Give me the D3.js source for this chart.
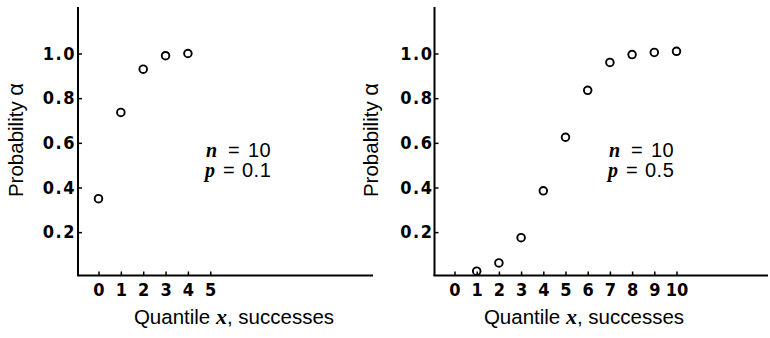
<!DOCTYPE html>
<html>
<head>
<meta charset="utf-8">
<script src="https://cdn.jsdelivr.net/npm/d3@7"></script>
<style>
  html, body { margin: 0; padding: 0; background: #fff; }
  svg { display: block; }
  .tick text { font-family: "DejaVu Sans Condensed", "DejaVu Sans", sans-serif; font-size: 18px; font-weight: bold; fill: #000; }
  .label { font-family: "Liberation Sans", Arial, sans-serif; font-size: 20.5px; fill: #000; }
  .note { font-family: "Liberation Sans", Arial, sans-serif; font-size: 20px; fill: #000; }
  .var { font-family: "Liberation Serif", "DejaVu Serif", serif; font-style: italic; font-weight: bold; }
</style>
</head>
<body>
<svg id="chart" width="770" height="338"></svg>
<script>
// left panel: n = 10, p = 0.1
const leftX = [0, 1, 2, 3, 4];
const leftAlpha = [0.35, 0.736, 0.93, 0.99, 1.0];
const leftTicksX = [0, 1, 2, 3, 4, 5];

// right panel: n = 10, p = 0.5
const rightX = [1, 2, 3, 4, 5, 6, 7, 8, 9, 10];
const rightAlpha = [0.025, 0.062, 0.175, 0.385, 0.625, 0.835, 0.96, 0.995, 1.005, 1.01];
const rightTicksX = [0, 1, 2, 3, 4, 5, 6, 7, 8, 9, 10];

const ticksY = [0.2, 0.4, 0.6, 0.8, 1.0];

const svg = d3.select("#chart");

function drawPanel(cfg) {
  const g = svg.append("g");
  const x = d3.scaleLinear().domain([0, cfg.xMax]).range([cfg.x0, cfg.x0 + cfg.step * cfg.xMax]);
  const y = d3.scaleLinear().domain([0, 1]).range([276.8, 53.5]);

  // frame lines (L shape)
  g.append("line")
    .attr("x1", cfg.axisX).attr("x2", cfg.axisX)
    .attr("y1", 7).attr("y2", 276)
    .attr("stroke", "#000").attr("stroke-width", 2);
  g.append("line")
    .attr("x1", cfg.axisX - 1).attr("x2", cfg.axisEnd)
    .attr("y1", 275.5).attr("y2", 275.5)
    .attr("stroke", "#000").attr("stroke-width", 2);

  // y axis
  const ya = g.append("g")
    .attr("transform", `translate(${cfg.axisX},0)`)
    .call(d3.axisLeft(y).tickValues(ticksY).tickFormat(d3.format(".1f")).tickSize(-4).tickPadding(cfg.yPad));
  ya.select(".domain").remove();
  ya.selectAll(".tick line").attr("stroke", "#000").attr("stroke-width", 1.5);
  ya.selectAll(".tick text").attr("letter-spacing", "1.5px");

  // x axis
  const xa = g.append("g")
    .attr("transform", `translate(0,275.5)`)
    .call(d3.axisBottom(x).tickValues(cfg.ticksX).tickFormat(d3.format("d")).tickSize(-4).tickPadding(8));
  xa.select(".domain").remove();
  xa.selectAll(".tick line").attr("stroke", "#000").attr("stroke-width", 1.5);

  // points
  g.selectAll("circle")
    .data(cfg.xs.map((d, i) => [d, cfg.ys[i]]))
    .join("circle")
    .attr("cx", d => x(d[0]))
    .attr("cy", d => y(d[1]))
    .attr("r", 3.8)
    .attr("fill", "none")
    .attr("stroke", "#000")
    .attr("stroke-width", 1.9);

  // y label
  const yl = g.append("text")
    .attr("class", "label")
    .attr("transform", `translate(${cfg.yLabelX},140) rotate(-90)`)
    .attr("text-anchor", "middle");
  yl.append("tspan").text("Probability ");
  yl.append("tspan").attr("font-size", "22px").text("α");

  // x label
  const xl = g.append("text")
    .attr("class", "label")
    .attr("x", cfg.xLabelX).attr("y", 324)
    .attr("text-anchor", "middle");
  xl.append("tspan").text("Quantile ");
  xl.append("tspan").attr("class", "var").attr("font-size", "22px").text("x");
  xl.append("tspan").text(", successes");

  // parameters
  const nx = cfg.noteX;
  const n1 = g.append("text").attr("class", "note").attr("y", 157);
  n1.append("tspan").attr("class", "var").attr("x", nx + 1).text("n");
  n1.append("tspan").attr("x", nx + 23).text("=");
  n1.append("tspan").attr("x", nx + 43).attr("letter-spacing", "0.5px").text("10");
  const n2 = g.append("text").attr("class", "note").attr("y", 177);
  n2.append("tspan").attr("class", "var").attr("x", nx).text("p");
  n2.append("tspan").attr("x", nx + 18).text("=");
  n2.append("tspan").attr("x", nx + 37).attr("letter-spacing", "0.5px").text(cfg.p);
}

drawPanel({
  xs: leftX, ys: leftAlpha, ticksX: leftTicksX, xMax: 5,
  x0: 98.5, step: 22.35, axisX: 78, axisEnd: 373, yPad: 2,
  yLabelX: 23, xLabelX: 234, noteX: 205, p: "0.1"
});

drawPanel({
  xs: rightX, ys: rightAlpha, ticksX: rightTicksX, xMax: 10,
  x0: 454.5, step: 22.2, axisX: 434.5, axisEnd: 768, yPad: 1,
  yLabelX: 378, xLabelX: 584, noteX: 608, p: "0.5"
});
</script>
</body>
</html>
